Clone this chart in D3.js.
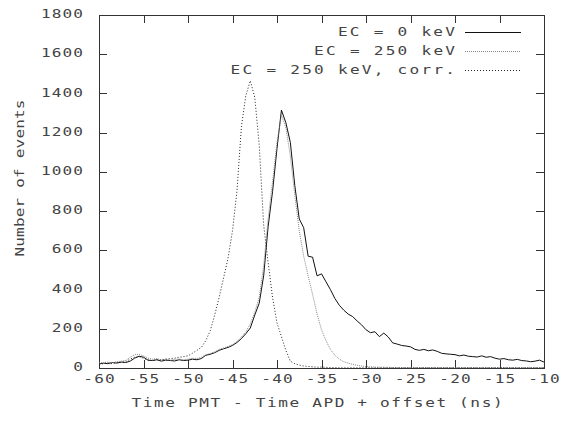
<!DOCTYPE html>
<html>
<head>
<meta charset="utf-8">
<script src="https://cdn.jsdelivr.net/npm/d3@7"></script>
<style>
  body { margin: 0; background: #fff; }
  text { font-family: "DejaVu Sans Mono", monospace; fill: #444; }
</style>
</head>
<body>
<svg id="chart" width="571" height="421"></svg>
<script>
// histogram bins (ns)
const timeBins = [
  -60, -59.5, -59, -58.5, -58, -57.5, -57, -56.5, -56, -55.5,
  -55, -54.5, -54, -53.5, -53, -52.5, -52, -51.5, -51, -50.5,
  -50, -49.5, -49, -48.5, -48, -47.5, -47, -46.5, -46, -45.5,
  -45, -44.5, -44, -43.5, -43, -42.5, -42, -41.5, -41, -40.5,
  -40, -39.5, -39, -38.5, -38, -37.5, -37, -36.5, -36, -35.5,
  -35, -34.5, -34, -33.5, -33, -32.5, -32, -31.5, -31, -30.5,
  -30, -29.5, -29, -28.5, -28, -27.5, -27, -26.5, -26, -25.5,
  -25, -24.5, -24, -23.5, -23, -22.5, -22, -21.5, -21, -20.5,
  -20, -19.5, -19, -18.5, -18, -17.5, -17, -16.5, -16, -15.5,
  -15, -14.5, -14, -13.5, -13, -12.5, -12, -11.5, -11, -10.5, -10
];

// EC = 0 keV
const ec0 = [
  20, 25, 22, 28, 25, 30, 28, 35, 50, 60,
  55, 40, 38, 42, 35, 40, 38, 36, 42, 38,
  40, 45, 42, 48, 65, 70, 78, 90, 98, 105,
  115, 130, 150, 175, 204, 270, 330, 470, 720, 900,
  1120, 1315, 1250, 1150, 930, 760, 715, 570, 565, 470,
  480, 440, 400, 355, 320, 295, 275, 262, 240, 220,
  195, 180, 185, 160, 178, 158, 128, 122, 115, 112,
  108, 95, 90, 95, 88, 92, 85, 75, 72, 70,
  68, 62, 66, 60, 58, 56, 62, 55, 58, 50,
  45, 48, 42, 40, 44, 38, 36, 32, 35, 40, 30
];

// EC = 250 keV
const ec250 = [
  25, 28, 30, 27, 32, 35, 38, 55, 68, 70,
  62, 50, 45, 48, 42, 45, 40, 44, 46, 42,
  45, 50, 48, 55, 68, 74, 82, 95, 102, 110,
  120, 135, 158, 185, 225, 285, 360, 520, 760, 950,
  1150, 1290, 1225, 1080, 880, 700, 570, 470, 375, 275,
  195, 140, 95, 65, 45, 32, 25, 18, 14, 10,
  8, 6, 5, 4, 4, 3, 3, 2, 2, 2,
  2, 2, 2, 2, 2, 2, 2, 2, 2, 2,
  2, 2, 2, 2, 2, 2, 2, 2, 2, 2,
  2, 2, 2, 2, 2, 2, 2, 2, 2, 2, 2
];

// EC = 250 keV, corrected
const ec250corr = [
  20, 22, 25, 22, 28, 30, 32, 45, 55, 58,
  50, 40, 38, 42, 40, 45, 48, 50, 55, 58,
  62, 75, 90, 105, 140, 190, 270, 360, 460, 560,
  700, 900, 1230, 1390, 1465, 1380, 1140, 730, 540, 360,
  230, 160, 90, 35, 22, 15, 10, 8, 6, 4,
  5, 3, 2, 2, 1, 1, 1, 1, 1, 1,
  1, 1, 1, 1, 1, 1, 1, 1, 1, 1,
  1, 1, 1, 1, 1, 1, 1, 1, 1, 1,
  1, 1, 1, 1, 1, 1, 1, 1, 1, 1,
  1, 1, 1, 1, 1, 1, 1, 1, 1, 1, 1
];

const xTicks = [-60, -55, -50, -45, -40, -35, -30, -25, -20, -15, -10];
const yTicks = [0, 200, 400, 600, 800, 1000, 1200, 1400, 1600, 1800];
const legendLabels = ["EC = 0 keV", "EC = 250 keV", "EC = 250 keV, corr."];

let svg = d3.select("svg#chart");
const margin = { top: 15, left: 99, right: 27, bottom: 53 };
const width = svg.attr("width") - margin.left - margin.right;
const height = svg.attr("height") - margin.top - margin.bottom;
const tickLen = 8;
const fontSize = 11.5;
const stretch = 1.4;   // gnuplot-ish wide glyphs

// text that is stretched horizontally around its anchor point
function wideText(parent, x, y, anchor, str, spacing, rotate) {
  let g = parent.append("g")
    .attr("transform", `translate(${x},${y})` + (rotate ? ` rotate(${rotate})` : "") + ` scale(${stretch},1)`);
  let t = g.append("text")
    .attr("text-anchor", anchor)
    .attr("dominant-baseline", "central")
    .style("font-size", fontSize + "px")
    .style("letter-spacing", spacing + "px")
    .text(str);
  if (anchor === "end") t.attr("dx", spacing);
  if (anchor === "middle") t.attr("dx", spacing / 2);
  return t;
}

let plot = svg.append("g")
  .attr("transform", `translate(${margin.left},${margin.top})`);

let xScale = d3.scaleLinear().domain([-60, -10]).range([0, width]);
let yScale = d3.scaleLinear().domain([0, 1800]).range([height, 0]);

function styleTicks(g) {
  g.select(".domain").remove();
  g.selectAll("line").attr("stroke", "#333").attr("shape-rendering", "crispEdges");
}

// ticks on all four sides, labels drawn separately
plot.append("g")
  .attr("transform", `translate(0,${height})`)
  .call(d3.axisBottom(xScale).tickValues(xTicks).tickSize(-tickLen).tickFormat(""))
  .call(styleTicks);
plot.append("g")
  .call(d3.axisTop(xScale).tickValues(xTicks).tickSize(-tickLen).tickFormat(""))
  .call(styleTicks);
plot.append("g")
  .call(d3.axisLeft(yScale).tickValues(yTicks).tickSize(-tickLen).tickFormat(""))
  .call(styleTicks);
plot.append("g")
  .attr("transform", `translate(${width},0)`)
  .call(d3.axisRight(yScale).tickValues(yTicks).tickSize(-tickLen).tickFormat(""))
  .call(styleTicks);

// tick labels
xTicks.forEach((v) => wideText(plot, xScale(v), height + 10.5, "middle", String(v), 0.8));
yTicks.forEach((v) => wideText(plot, -16, yScale(v) - 1, "end", String(v), 0.8));

// border
plot.append("rect")
  .attr("x", 0).attr("y", 0)
  .attr("width", width).attr("height", height)
  .attr("fill", "none")
  .attr("stroke", "#333")
  .attr("shape-rendering", "crispEdges");

// curves
const series = [
  { label: legendLabels[0], values: ec0, color: "#111", dash: null },
  { label: legendLabels[1], values: ec250, color: "#888", dash: "1,1" },
  { label: legendLabels[2], values: ec250corr, color: "#222", dash: "1,2" },
];

let line = d3.line()
  .x((d) => xScale(d[0]))
  .y((d) => yScale(d[1]));

series.forEach((s) => {
  plot.append("path")
    .datum(timeBins.map((t, i) => [t, s.values[i]]))
    .attr("d", line)
    .attr("fill", "none")
    .attr("stroke", s.color)
    .attr("stroke-width", 1)
    .attr("stroke-dasharray", s.dash);
});

// legend
let legend = svg.append("g");
series.forEach((s, i) => {
  const y = 32 + i * 19;
  wideText(legend, 455, y, "end", s.label, 1.6);
  legend.append("line")
    .attr("x1", 465).attr("x2", 521)
    .attr("y1", y + 0.5).attr("y2", y + 0.5)
    .attr("stroke", s.color)
    .attr("stroke-dasharray", s.dash);
});

// axis titles
wideText(svg, 317, 403, "middle", "Time PMT - Time APD + offset (ns)", 1.15);
wideText(svg, 20, 178, "middle", "Number of events", 0.1, -90);
</script>
</body>
</html>
